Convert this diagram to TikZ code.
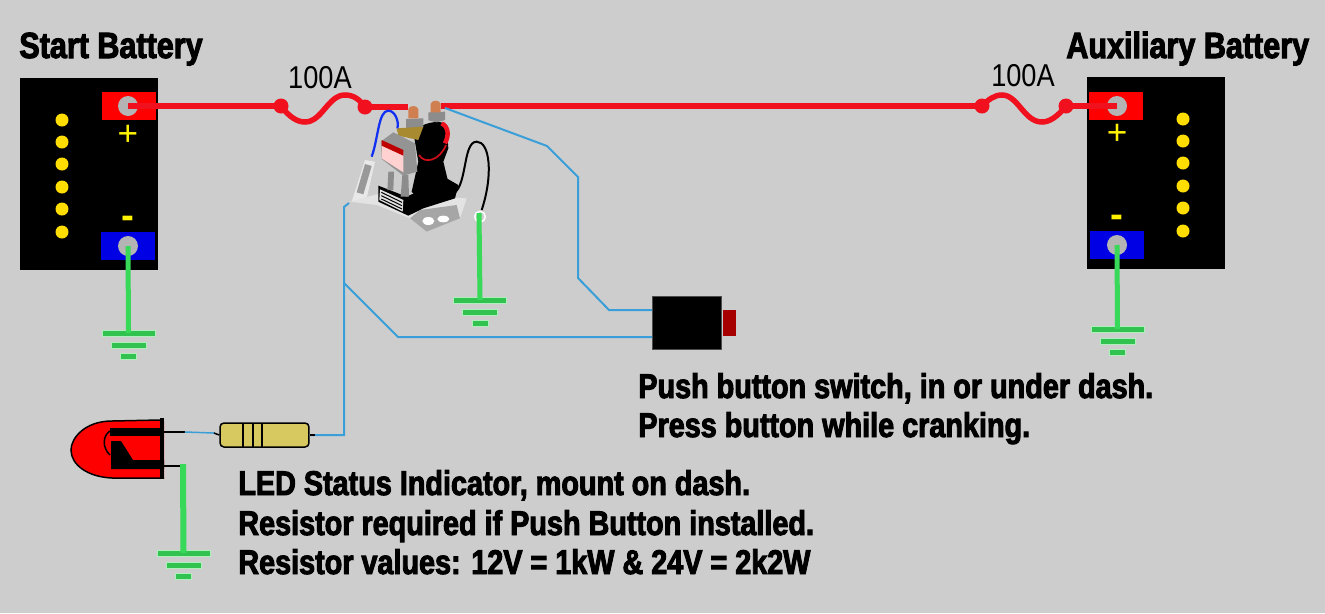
\documentclass[tikz,border=0pt]{standalone}
\usepackage{fontspec}
\usetikzlibrary{positioning}
\setmainfont{Liberation Sans}
\newfontfamily\labelfont[FakeStretch=0.84,FakeBold=2.8]{Liberation Sans Bold}
\newfontfamily\fusefont[FakeStretch=0.86]{Liberation Sans}
\definecolor{bggrey}{HTML}{CDCDCD}
\definecolor{postgrey}{HTML}{B4B4B4}
\definecolor{wirered}{HTML}{F0101E}
\definecolor{wireblue}{HTML}{3A9FD8}
\definecolor{wiregreen}{HTML}{38D858}
\definecolor{dotyellow}{HTML}{FFDD00}
\definecolor{resbody}{HTML}{D8C860}
\definecolor{copper}{HTML}{D08050}
\definecolor{brass}{HTML}{A88A30}
\tikzset{
    battery/.style={fill=black, minimum width=2.76cm, minimum height=3.84cm, inner sep=0},
    posterm/.style={fill=red, minimum width=1.08cm, minimum height=0.55cm, inner sep=0},
    negterm/.style={fill=blue!90!black, minimum width=1.08cm, minimum height=0.55cm, inner sep=0},
    post/.style={circle, fill=postgrey, minimum size=0.4cm, inner sep=0},
    celldot/.style={circle, fill=dotyellow, minimum size=0.26cm, inner sep=0},
    fusedot/.style={circle, fill=wirered, minimum size=0.3cm, inner sep=0},
    plussign/.style={text=yellow, font=\fontsize{20}{20}\selectfont, inner sep=0},
    minussign/.style={text=yellow, font=\bfseries\fontsize{22}{22}\selectfont, inner sep=0},
    redwire/.style={draw=wirered, line width=0.11cm},
    bluewire/.style={draw=wireblue, line width=0.04cm},
    greenwire/.style={draw=wiregreen, line width=0.1cm},
    boldlabel/.style={font=\labelfont\fontsize{19.5}{19.5}\selectfont, anchor=base west, inner sep=0},
    headlabel/.style={font=\labelfont\fontsize{20.7}{20.7}\selectfont, anchor=base west, inner sep=0},
    fuselabel/.style={font=\fusefont\fontsize{18}{18}\selectfont, anchor=base, inner sep=0},
    groundbar/.style={fill=wiregreen!90!black, draw=white!60!wiregreen, line width=0.2pt},
    ground/.pic={
        \path[groundbar] (-26.5,-3) rectangle (26.5,3);
        \path[groundbar] (-17.5,9) rectangle (17.5,15);
        \path[groundbar] (-8,20) rectangle (8,26);
    }
}
\begin{document}
\begin{tikzpicture}[x=0.02cm, y=-0.02cm]
    \fill[bggrey] (0,0) rectangle (1325,613);
    \useasboundingbox (0,0) rectangle (1325,613);

    \node[battery] (startbat) at (89,174) {};
    \node[posterm] (startpos) at (129,106) {};
    \node[negterm] (startneg) at (128,246) {};
    \node[post] (startpospost) at (128,106) {};
    \node[post] (startnegpost) at (128,246) {};
    \node[plussign] (startplus) at (128,135) {+};
    \node[minussign] (startminus) at (128,222) {-};
    \foreach \y [count=\i] in {120,142,164,187,209,232}{
        \node[celldot] (startcell\i) at (62,\y) {};
    }

    \node[battery] (auxbat) at (1156,173) {};
    \node[posterm] (auxpos) at (1116,106) {};
    \node[negterm] (auxneg) at (1117,245) {};
    \node[post] (auxpospost) at (1117,106) {};
    \node[post] (auxnegpost) at (1117,245) {};
    \node[plussign] (auxplus) at (1117,134) {+};
    \node[minussign] (auxminus) at (1117,221) {-};
    \foreach \y [count=\i] in {119,141,163,186,208,231}{
        \node[celldot] (auxcell\i) at (1183,\y) {};
    }

    \node[fusedot] (fusea) at (281,106) {};
    \node[fusedot] (fuseb) at (365,107) {};
    \node[fusedot] (fusec) at (982,106) {};
    \node[fusedot] (fused) at (1066,106) {};
    \coordinate (studa) at (408,107);
    \coordinate (studb) at (441,106);
    \draw[redwire] (startpospost.center) -- (fusea.center);
    \draw[redwire] (fusea.center) .. controls (290,118) and (298,122) .. (305,122) .. controls (322,122) and (328,95) .. (345,95) .. controls (354,95) and (360,100) .. (fuseb.center);
    \draw[redwire] (fuseb.center) -- (studa);
    \draw[redwire] (studb) -- (fusec.center);
    \draw[redwire] (fusec.center) .. controls (988,100) and (994,95) .. (1002,95) .. controls (1018,95) and (1024,122) .. (1042,122) .. controls (1050,122) and (1058,116) .. (fused.center);
    \draw[redwire] (fused.center) -- (auxpospost.center);
    \node[fuselabel] (fuselabela) at (320,88) {100A};
    \node[fuselabel] (fuselabelb) at (1023,86) {100A};

    \begin{scope}[shift={(340,95)}, scale=1/3]
        \fill[black!9] (75,195) -- (105,200) -- (80,310) -- (35,320) -- cycle;
        \fill[black!11] (30,320) -- (110,298) -- (380,310) -- (360,370) -- (260,410) -- (210,370) -- (110,330) -- cycle;
        \fill[black!35] (210,370) -- (240,345) -- (350,330) -- (360,370) -- (260,410) -- cycle;
        \fill[white] (265,378) ellipse [x radius=18, y radius=12];
        \fill[white] (310,372) ellipse [x radius=18, y radius=10];
        \fill[black] (115,272) -- (200,305) -- (320,250) -- (355,270) -- (345,310) -- (250,340) -- (205,362) -- (115,320) -- cycle;
        \fill[white!88!black] (120,283) -- (190,315) -- (188,350) -- (118,315) -- cycle;
        \foreach \k in {0,1,2}{
            \draw[black, line width=0.02cm] (124,{292+\k*10}) -- (186,{322+\k*10});
        }
        \fill[black] (220,112) .. controls (240,85) and (300,70) .. (320,90) -- (325,160) -- (310,200) -- (325,262) -- (235,312) -- (215,290) -- (235,200) -- cycle;
        \draw[wirered!85!black, line width=0.035cm] (237,180) .. controls (255,210) and (300,195) .. (318,150);
        \draw[wirered, line width=0.09cm] (305,85) .. controls (325,95) and (328,120) .. (315,145);
        \fill[black!45] (198,72) -- (250,70) -- (250,95) -- (222,104) -- (198,98) -- cycle;
        \fill[black!45] (265,52) -- (315,50) -- (315,75) -- (290,82) -- (265,76) -- cycle;
        \fill[copper] (205,70) -- (205,42) .. controls (210,30) and (230,30) .. (235,42) -- (235,70) -- cycle;
        \fill[copper] (272,52) -- (272,26) .. controls (277,14) and (297,14) .. (302,26) -- (302,52) -- cycle;
        \fill[brass] (170,100) -- (250,95) -- (235,135) -- (175,122) -- cycle;
        \fill[black!45] (145,230) -- (162,230) -- (160,285) -- (142,285) -- cycle;
        \fill[black!45] (187,240) -- (205,240) -- (207,305) -- (182,305) -- cycle;
        \fill[black!42] (122,140) -- (160,112) -- (225,145) -- (232,230) -- (190,242) -- (125,192) -- cycle;
        \fill[white!82!red] (125,140) -- (190,172) -- (190,232) -- (125,190) -- cycle;
        \fill[red!75!black] (125,135) -- (190,165) -- (190,182) -- (125,152) -- cycle;
        \draw[blue!70!wireblue, line width=0.045cm] (95,185) .. controls (115,130) and (115,47) .. (145,47) .. controls (165,47) and (178,80) .. (172,100);
        \draw[black!40, line width=0.14cm] (85,210) -- (60,295);
        \draw[black, line width=0.04cm] (330,300) .. controls (385,290) and (365,140) .. (410,140) .. controls (450,140) and (460,240) .. (425,345);
        \draw[white, line width=0.03cm] (420,365) circle [radius=16];
    \end{scope}

    \node[minimum width=1.38cm, minimum height=1.06cm, fill=black, draw=black!70, line width=0.2pt, inner sep=0] (switch) at (686.5,322.5) {};
    \node[minimum width=0.26cm, minimum height=0.52cm, fill=red!65!black, inner sep=0, right=0.02cm of switch] (switchcap) {};
    \coordinate (swa) at (652,310);
    \coordinate (swb) at (652,337);
    \coordinate (sola) at (445,108);
    \coordinate (solb) at (349,203);
    \coordinate (junction) at (344,283);

    \draw[bluewire] (sola) -- (547,146) -- (578,177) -- (578,278) -- (609,310) -- (swa);
    \draw[bluewire] (junction) -- (398,337) -- (swb);

    \node[minimum width=1.78cm, minimum height=0.48cm, rounded corners=0.08cm, fill=resbody, draw=black, line width=0.03cm, inner sep=0] (resistor) at (264.5,435) {};
    \foreach \x in {243,253,262}{
        \draw[black, line width=0.03cm] (\x,423) -- (\x,447);
    }
    \draw[bluewire] (solb) -- (344,207) -- (344,435) -- (resistor.east);
    \draw[black, line width=0.03cm] (resistor.east) -- ++(5,0);

    \fill[red] (164,421) -- (112,421) .. controls (85,421) and (71,438) .. (71,450) .. controls (71,465) and (88,477) .. (112,478) -- (164,478) -- cycle;
    \draw[black, line width=0.03cm] (160,420) -- (112,421) .. controls (85,421) and (71,438) .. (71,450) .. controls (71,465) and (88,477) .. (112,478) -- (164,478);
    \fill[black] (160,418) -- (164,418) -- (164,478) -- (160,478) -- cycle;
    \fill[black] (110,428) -- (164,428) -- (164,436) -- (110,436) -- cycle;
    \fill[black] (111,441) -- (121,441) -- (133,460) -- (164,460) -- (164,469) -- (111,469) -- cycle;
    \draw[black, line width=0.03cm] (112,430) .. controls (102,434) and (102,448) .. (110,455);
    \coordinate (ledanode) at (164,432);
    \coordinate (ledcathode) at (164,466);
    \coordinate (leadend) at (185,432);
    \draw[black, line width=0.05cm] (ledanode) -- (leadend);
    \draw[black, line width=0.05cm] (ledcathode) -- (183,466);
    \draw[wireblue, line width=0.03cm] (leadend) -- (214,433);
    \draw[black, line width=0.03cm] (214,433) -- (resistor.west);

    \coordinate (solgnd) at (479,213);
    \coordinate (ledgnd) at (183,464);
    \pic (gnda) at (128.5,333) {ground};
    \pic (gndb) at (1117.5,329) {ground};
    \pic (gndc) at (480,300) {ground};
    \pic (gndd) at (183.5,553) {ground};
    \draw[greenwire] (startnegpost.center) -- (128.5,333);
    \draw[greenwire] (auxnegpost.center) -- (1117.5,329);
    \draw[greenwire] (solgnd) -- (480,300);
    \draw[greenwire, line width=0.12cm] (ledgnd) -- (183.5,553);

    \node[headlabel] (startlabel) at (19,58) {Start Battery};
    \node[headlabel] (auxlabel) at (1066,58) {Auxiliary Battery};
    \node[boldlabel] (pushlabela) at (638,398) {Push button switch, in or under dash.};
    \node[boldlabel] (pushlabelb) at (638,437) {Press button while cranking.};
    \node[boldlabel] (ledlabela) at (238,495) {LED Status Indicator, mount on dash.};
    \node[boldlabel] (ledlabelb) at (238,535) {Resistor required if Push Button installed.};
    \node[boldlabel] (ledlabelc) at (238,574) {Resistor values: 12V = 1kW \& 24V = 2k2W};
\end{tikzpicture}
\end{document}
